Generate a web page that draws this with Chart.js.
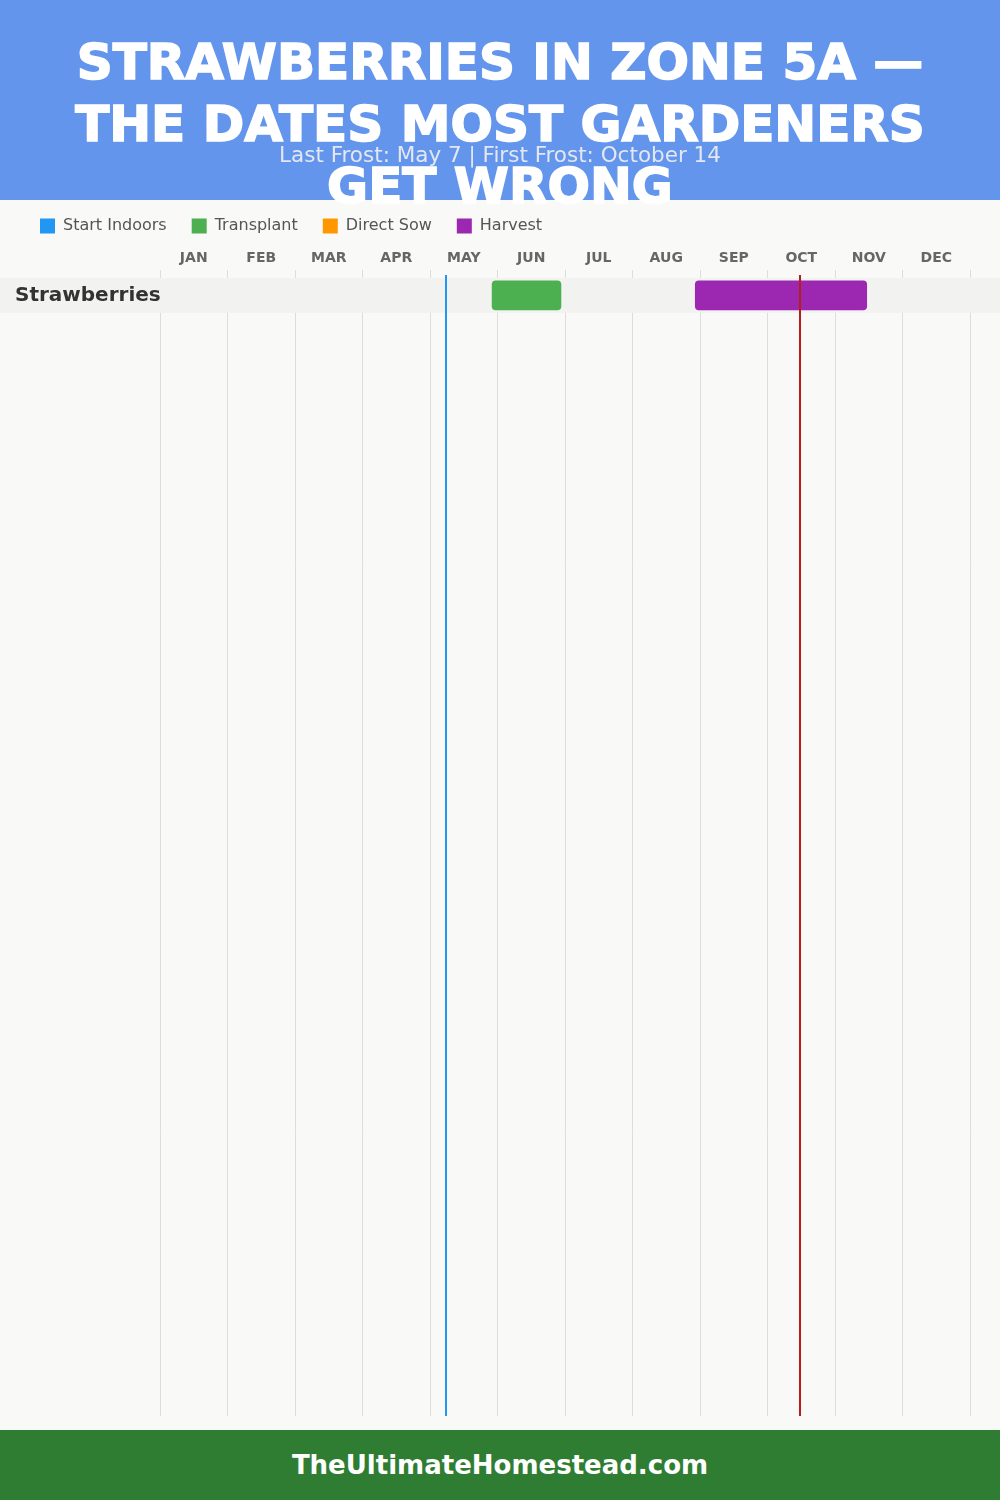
<!DOCTYPE html>
<html lang="en">
<head>
    <meta charset="UTF-8">
    <title>Strawberries in Zone 5A</title>
    <script src="https://cdn.jsdelivr.net/npm/chart.js@4.4.8/dist/chart.umd.min.js"></script>
    <style>
        body { margin: 0; background: #f9f9f7; font-family: "DejaVu Sans", sans-serif; }
        #page { position: relative; width: 1000px; height: 1500px; overflow: hidden; }
        #header { position: absolute; left: 0; top: 0; width: 1000px; height: 200px; background: #6495ed; z-index: 2; }
        #title { position: absolute; left: 0; top: 31px; width: 1000px; margin: 0; text-align: center;
                 color: #fff; font-size: 50px; line-height: 62px; font-weight: bold; z-index: 3;
                 -webkit-text-stroke: 1.6px #fff; }
        #subtitle { position: absolute; left: 0; top: 141px; width: 1000px; text-align: center;
                    color: rgba(240,240,240,0.9); font-size: 21.5px; line-height: 28px; z-index: 4; }
        #chartBox { position: absolute; left: 0; top: 193px; z-index: 1; }
        #footer { position: absolute; left: 0; top: 1430px; width: 1000px; height: 70px; background: #2e7d32;
                  color: #fff; font-size: 26px; font-weight: bold; line-height: 70px; text-align: center; z-index: 2; }
    </style>
</head>
<body>
<div id="page">
    <div id="header"></div>
    <h1 id="title">STRAWBERRIES IN ZONE 5A —<br>THE DATES MOST GARDENERS<br>GET WRONG</h1>
    <div id="subtitle">Last Frost: May 7 | First Frost: October 14</div>
    <div id="chartBox"><canvas id="calendar" width="1000" height="1238"></canvas></div>
    <div id="footer">TheUltimateHomestead.com</div>
</div>
<script>
    // months as 0..12 on the x scale (Jan 1 = 0)
    const MONTHS = ['JAN', 'FEB', 'MAR', 'APR', 'MAY', 'JUN', 'JUL', 'AUG', 'SEP', 'OCT', 'NOV', 'DEC'];
    const CROPS = ['Strawberries'];
    const START_INDOORS = [null];
    const TRANSPLANT = [[4.92, 5.94]];
    const DIRECT_SOW = [null];
    const HARVEST = [[7.93, 10.47]];
    const LAST_FROST = 4.23;   // May 7
    const FIRST_FROST = 9.48;  // Oct 14

    const ROW_HEIGHT = 35;

    function rows(ranges) {
        return ranges
            .map((r, i) => r ? { x: r, y: i + 0.5 } : null)
            .filter(p => p !== null);
    }

    const rowBands = {
        id: 'rowBands',
        beforeDatasetsDraw(chart) {
            const { ctx, scales: { y } } = chart;
            ctx.save();
            ctx.fillStyle = '#f2f2f0';
            CROPS.forEach((c, i) => {
                const top = y.getPixelForValue(i);
                const bottom = y.getPixelForValue(i + 1);
                ctx.fillRect(0, top, chart.width, bottom - top);
            });
            ctx.restore();
            // put the crop names back on top of the band
            y.drawLabels(chart.chartArea);
        }
    };

    const frostLines = {
        id: 'frostLines',
        afterDatasetsDraw(chart) {
            const { ctx, chartArea, scales: { x } } = chart;
            ctx.save();
            ctx.lineWidth = 2;
            [[LAST_FROST, '#2196f3'], [FIRST_FROST, '#b71c1c']].forEach(([v, col]) => {
                const px = Math.round(x.getPixelForValue(v));
                ctx.strokeStyle = col;
                ctx.beginPath();
                ctx.moveTo(px, chartArea.top - 3);
                ctx.lineTo(px, chartArea.bottom);
                ctx.stroke();
            });
            ctx.restore();
        }
    };

    const barStyle = { borderRadius: 4, borderSkipped: false, barThickness: 29, grouped: false };

    new Chart(document.getElementById('calendar'), {
        type: 'bar',
        data: {
            datasets: [
                { label: 'Start Indoors', data: rows(START_INDOORS), backgroundColor: '#2196f3', ...barStyle },
                { label: 'Transplant', data: rows(TRANSPLANT), backgroundColor: '#4caf50', ...barStyle },
                { label: 'Direct Sow', data: rows(DIRECT_SOW), backgroundColor: '#ff9800', ...barStyle },
                { label: 'Harvest', data: rows(HARVEST), backgroundColor: '#9c27b0', ...barStyle }
            ]
        },
        options: {
            responsive: false,
            animation: false,
            indexAxis: 'y',
            layout: { padding: { left: 15, right: 30, top: 0, bottom: 11 } },
            plugins: {
                legend: {
                    position: 'top',
                    align: 'start',
                    labels: {
                        boxWidth: 15, boxHeight: 15, padding: 25,
                        color: '#555', font: { family: 'DejaVu Sans', size: 16 }
                    }
                },
                tooltip: { enabled: false }
            },
            scales: {
                x: {
                    type: 'linear',
                    position: 'top',
                    min: 0,
                    max: 12,
                    afterBuildTicks: axis => { axis.ticks = MONTHS.concat(['']).map((m, i) => ({ value: i })); },
                    afterFit: axis => { axis.height = 34; },
                    grid: { color: '#dddddd', tickLength: 8 },
                    border: { display: false },
                    ticks: {
                        padding: 3,
                        labelOffset: 33.75,
                        color: '#666',
                        font: { family: 'DejaVu Sans', size: 14, weight: 'bold' },
                        callback: (v, i) => MONTHS[i] || ''
                    }
                },
                y: {
                    type: 'linear',
                    reverse: true,
                    offset: false,
                    min: 0,
                    max: 1142 / ROW_HEIGHT,
                    afterFit: axis => { axis.width = 145; },
                    afterBuildTicks: axis => { axis.ticks = CROPS.map((c, i) => ({ value: i + 0.5 })); },
                    grid: { display: false },
                    border: { display: false },
                    ticks: {
                        crossAlign: 'far',
                        color: '#333',
                        font: { family: 'DejaVu Sans', size: 20, weight: 'bold' },
                        callback: (v, i) => CROPS[i]
                    }
                }
            }
        },
        plugins: [rowBands, frostLines]
    });
</script>
</body>
</html>
